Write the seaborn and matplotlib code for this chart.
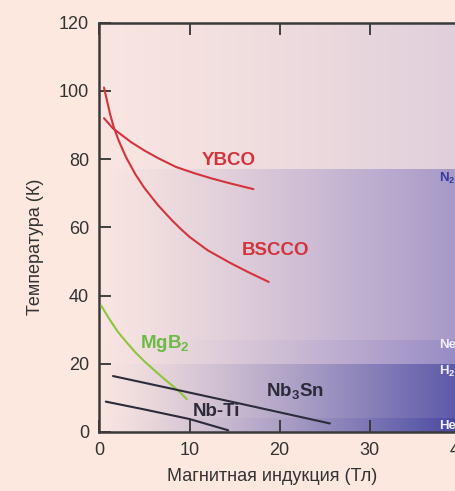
import numpy as np
import pandas as pd
import seaborn as sns
import matplotlib.pyplot as plt
from matplotlib.colors import to_rgb

# critical curves (B in T, T in K)
ybco_b = [0.5, 1.5, 2.5, 3.5, 5.0, 6.5, 8.5, 10.5, 12.5, 14.5, 17.1]
ybco_t = [92, 89, 87, 85, 82.5, 80.3, 77.7, 75.9, 74.3, 72.9, 71.2]
bscco_b = [0.5, 0.8, 1.2, 1.6, 2.2, 3.0, 4.0, 5.0, 6.5, 8.0, 9.0, 10.0, 12.0, 14.5, 16.5, 18.8]
bscco_t = [101, 97.5, 93, 89.2, 85, 80.3, 75.5, 71.5, 66.5, 62.2, 59.6, 57.2, 53.3, 49.6, 46.9, 44]
mgb2_b = [0.2, 1.0, 2.0, 3.0, 4.0, 5.0, 6.0, 7.0, 8.0, 9.0, 9.7]
mgb2_t = [37, 33.5, 29.5, 26.3, 23.3, 20.7, 18.3, 16, 13.8, 11.5, 9.6]
nb3sn_b = [1.5, 8.0, 16.0, 25.6]
nb3sn_t = [16.4, 12.7, 8.1, 2.5]
nbti_b = [0.7, 5.0, 10.0, 14.3]
nbti_t = [8.9, 6.6, 3.8, 0.5]

# coolant boiling points (K)
coolant_names = ['He', 'H$_2$', 'Ne', 'N$_2$']
coolant_t = [4.2, 20, 27, 77]

x_ticks = [0, 10, 20, 30, 40]
y_ticks = [0, 20, 40, 60, 80, 100, 120]

BG = '#fce8de'
RED = '#d2343c'
GREEN = '#8cc63f'
DARK = '#2b2b3a'

sns.set_theme(style='ticks')
plt.rcParams['font.family'] = ['Liberation Sans', 'DejaVu Sans']
plt.rcParams['mathtext.fontset'] = 'custom'
plt.rcParams['mathtext.rm'] = 'Liberation Sans'
plt.rcParams['mathtext.bf'] = 'Liberation Sans:bold'

curves = {'YBCO': (ybco_b, ybco_t), 'BSCCO': (bscco_b, bscco_t),
          'MgB2': (mgb2_b, mgb2_t), 'Nb3Sn': (nb3sn_b, nb3sn_t),
          'NbTi': (nbti_b, nbti_t)}
df = pd.concat([pd.DataFrame({'B': b, 'T': t, 'curve': k}) for k, (b, t) in curves.items()],
               ignore_index=True)
palette = {'YBCO': RED, 'BSCCO': RED, 'MgB2': GREEN, 'Nb3Sn': DARK, 'NbTi': DARK}

fig = plt.figure(figsize=(4.56, 4.91), dpi=100, facecolor=BG)
ax = fig.add_axes([0.2182, 0.1202, 0.7895, 0.8336])

# background shading: fades to purple to the right, darker below each coolant line
left_col = np.array(to_rgb('#f9e5e1'))
band_right = ['#4848a2', '#5b58a8', '#968ac4', '#a698c8', '#e0cfdb']  # He, H2, Ne, N2, above
bg = np.linspace(0, 40, 400)
tg = np.linspace(0, 120, 1200)
band_idx = np.searchsorted(coolant_t, tg)
frac = (bg / 40) ** 1.2
img = np.zeros((len(tg), len(bg), 3))
for i, bi in enumerate(band_idx):
    rc = np.array(to_rgb(band_right[bi]))
    img[i] = left_col + (rc - left_col) * frac[:, None]
ax.imshow(img, origin='lower', extent=(0, 40, 0, 120), aspect='auto',
          interpolation='nearest', zorder=0)

sns.lineplot(data=df, x='B', y='T', hue='curve', palette=palette, sort=False,
             estimator=None, legend=False, linewidth=1.5, ax=ax, zorder=3)

ax.set_xlim(0, 40)
ax.set_ylim(0, 120)
ax.set_xticks(x_ticks)
ax.set_yticks(y_ticks)
ax.tick_params(direction='in', length=8.5, width=1.3, top=True, right=False,
               labelsize=13, pad=7.5, colors='#333333')
for side in ['left', 'bottom', 'top']:
    ax.spines[side].set_color('#3a3a3a')
    ax.spines[side].set_linewidth(1.8)
ax.spines['right'].set_visible(False)

ax.set_xlabel('Магнитная индукция (Тл)', fontsize=13, color='#333333')
ax.set_ylabel('Температура (К)', fontsize=13, color='#333333')
ax.xaxis.set_label_coords(0.479, -0.088)
ax.yaxis.set_label_coords(-0.155, 0.452)

lab = dict(fontsize=13.5, fontweight='bold', ha='center', va='center', zorder=4)
ax.text(14.4, 79.6, 'YBCO', color=RED, **lab)
ax.text(19.5, 53.3, 'BSCCO', color=RED, **lab)
ax.text(7.3, 25.8, r'MgB$_\mathbf{2}$', color='#6dbb45', **lab)
ax.text(13.0, 6.1, 'Nb-Ti', color=DARK, **lab)
ax.text(21.7, 11.7, r'Nb$_\mathbf{3}$Sn', color=DARK, **lab)

# coolant names at the right edge
cool_y = [1.8, 17.7, 25.5, 74.4]
cool_c = ['#f2eef6', '#f2eef6', '#f2eef6', '#3b3ba0']
for name, y, c in zip(coolant_names, cool_y, cool_c):
    nm = name.replace('$_2$', r'$_\mathbf{2}$')
    ax.text(37.7, y, nm, color=c, fontsize=9.5, fontweight='bold',
            ha='left', va='center', zorder=4)

fig.savefig('out.png', dpi=100, facecolor=BG)
